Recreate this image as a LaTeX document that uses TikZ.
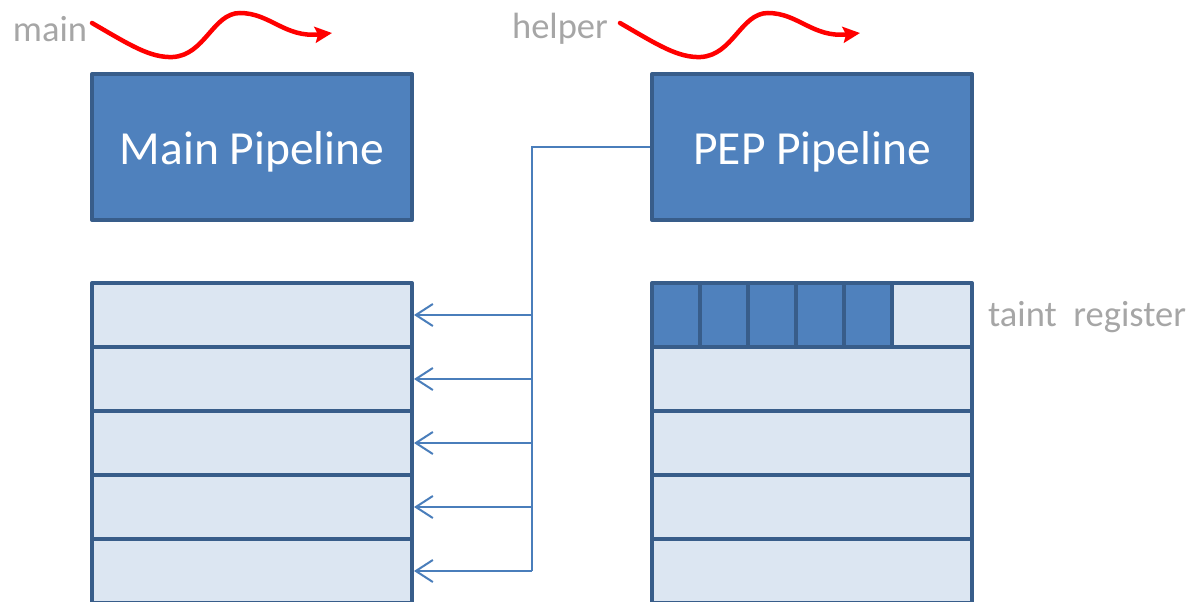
\documentclass[tikz,border=0pt]{standalone}
\usepackage{fontspec}
\setmainfont{Carlito}
\usetikzlibrary{arrows.meta}
\definecolor{edge}{HTML}{385D8A}
\definecolor{solid}{HTML}{4F81BD}
\definecolor{pale}{HTML}{DCE6F2}
\definecolor{wire}{HTML}{4A7EBB}
\definecolor{caption}{HTML}{A6A6A6}
\newcommand{\lowered}[1]{\raisebox{-5pt}[\height][\depth]{#1}}
\tikzset{
  unitbox/.style={draw=edge, line width=4pt, line join=round, fill=solid,
    minimum width=320pt, minimum height=146pt, inner sep=0pt,
    text=white, font=\fontsize{47.5}{56}\selectfont},
  rowbox/.style={draw=edge, line width=4pt, line join=round, fill=pale,
    minimum width=320pt, minimum height=64pt, inner sep=0pt},
  cellbox/.style={draw=edge, line width=4pt, line join=round, fill=solid,
    minimum width=48pt, minimum height=64pt, inner sep=0pt},
  freecell/.style={cellbox, fill=pale, minimum width=80pt},
  tag/.style={text=caption, inner sep=0pt, font=\fontsize{36.5}{42}\selectfont},
  flow/.style={draw=red, line width=4.5pt, line cap=round,
    -{Stealth[length=17pt,width=16pt,inset=3pt]}},
  wirepath/.style={draw=wire, line width=2pt, line join=miter},
  feed/.style={wirepath, -{Straight Barb[length=17pt,width=22pt]}}
}
\begin{document}
\begin{tikzpicture}[x=1pt,y=-1pt]
\clip (0,0) rectangle (1192,602);
\useasboundingbox (0,0) rectangle (1192,602);

% thread labels with their wavy arrows
\node[tag] (mainlbl) at (50,29) {main};
\node[tag] (helperlbl) at (560,29) {helper};
\draw[flow] (92,23) .. controls (130,45) and (150,58) .. (173,57)
  .. controls (205,55) and (213,13) .. (240,13)
  .. controls (270,13) and (285,38) .. (332,33);
\draw[flow] (620,23) .. controls (658,45) and (678,58) .. (701,57)
  .. controls (733,55) and (741,13) .. (768,13)
  .. controls (798,13) and (813,38) .. (860,33);

% pipelines
\node[unitbox] (mainpipe) at (252,147) {\lowered{Main Pipeline}};
\node[unitbox] (peppipe) at (812,147) {\lowered{PEP Pipeline}};

% register file of the main pipeline
\foreach \i/\y in {1/315,2/379,3/443,4/507,5/571}
  \node[rowbox] (l\i) at (252,\y) {};

% register file of the PEP pipeline, first entry split into taint bits
\foreach \i/\y in {2/379,3/443,4/507,5/571}
  \node[rowbox] (r\i) at (812,\y) {};
\foreach \j/\x in {1/676,2/724,3/772,4/820,5/868}
  \node[cellbox] (t\j) at (\x,315) {};
\node[freecell] (t6) at (932,315) {};
\node[tag, anchor=west] (taintlbl) at (988,317) {taint~~register};

% copy bus from the PEP pipeline into every main register
\coordinate (bus) at (532,147);
\draw[wirepath] (peppipe.west) -- (bus) -- (bus |- l5.east);
\foreach \i in {1,...,5}
  \draw[feed] (bus |- l\i.east) -- (l\i.east);
\end{tikzpicture}
\end{document}
